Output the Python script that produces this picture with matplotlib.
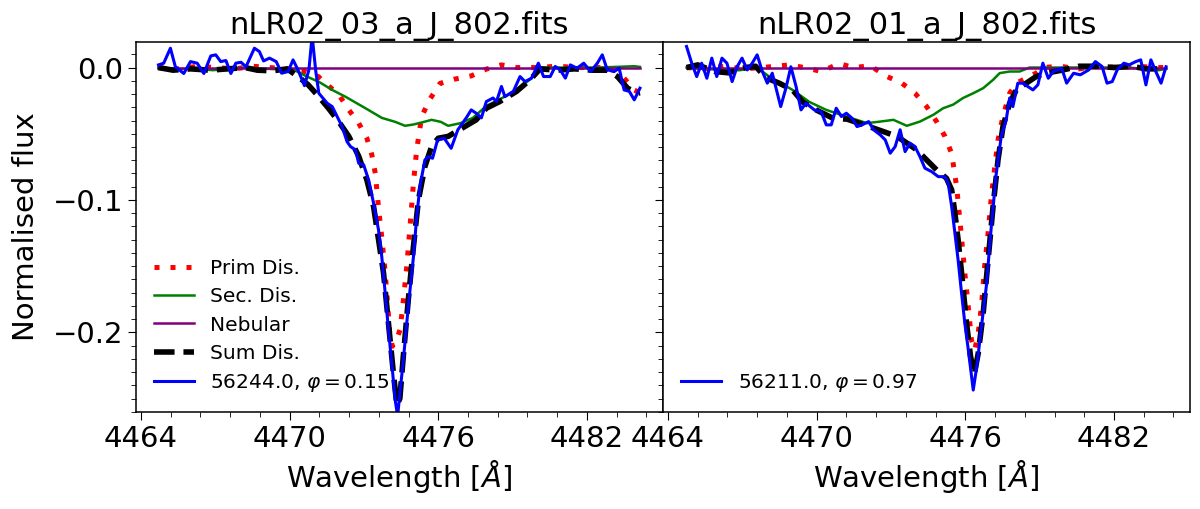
import numpy as np
import matplotlib
matplotlib.use('Agg')
import matplotlib.pyplot as plt
from matplotlib.ticker import MultipleLocator, AutoMinorLocator

# panel titles / observation labels
titles = ['nLR02_03_a_J_802.fits', 'nLR02_01_a_J_802.fits']
obs_labels = [r'56244.0, $\varphi = 0.15$', r'56211.0, $\varphi = 0.97$']

# ---- left panel (nLR02_03) ----
l_prim_x = [4464.7, 4465.5, 4466.3, 4467.0, 4467.8, 4468.5, 4469.2, 4469.9, 4470.6, 4471.16,
            4471.45, 4471.99, 4472.39, 4472.79, 4473.12, 4473.32, 4473.46, 4473.59, 4473.72, 4473.85,
            4473.97, 4474.05, 4474.15, 4474.3, 4474.46, 4474.59, 4474.73, 4474.86, 4475.0, 4475.13,
            4475.33, 4475.66, 4476.07, 4476.65, 4477.33, 4477.94, 4478.55, 4479.16, 4480.0, 4480.8,
            4481.6, 4482.5, 4483.09, 4483.5, 4483.91, 4484.14]
l_prim_y = [0.0, -0.001, 0.001, 0.0, -0.001, 0.001, 0.0, -0.001, -0.003, -0.0068,
            -0.0118, -0.0206, -0.032, -0.042, -0.0534, -0.066, -0.080, -0.106, -0.128, -0.153,
            -0.182, -0.203, -0.2105, -0.206, -0.198, -0.176, -0.150, -0.120, -0.087, -0.062,
            -0.037, -0.024, -0.012, -0.0088, -0.0063, -0.0012, 0.002, 0.0, 0.0, 0.001,
            0.0, 0.0, -0.002, -0.008, -0.017, -0.019]

l_sec_x = [4464.7, 4465.5, 4466.3, 4466.9, 4467.5, 4468.3, 4469.0, 4469.7, 4470.2, 4470.7,
           4471.2, 4471.72, 4472.25, 4473.06, 4473.72, 4474.26, 4474.66, 4475.0, 4475.33, 4475.73,
           4476.1, 4476.4, 4476.9, 4477.4, 4477.94, 4478.48, 4479.16, 4479.7, 4480.11, 4480.8,
           4481.6, 4482.4, 4483.2, 4483.9, 4484.14]
l_sec_y = [0.0, -0.001, -0.001, -0.002, -0.001, 0.0, -0.001, -0.001, -0.002, -0.0068,
           -0.011, -0.0169, -0.022, -0.0307, -0.038, -0.041, -0.044, -0.043, -0.0415, -0.0395,
           -0.041, -0.044, -0.042, -0.038, -0.029, -0.024, -0.017, -0.009, 0.0, 0.0,
           0.0, 0.0, 0.0005, 0.001, 0.0005]

l_neb_x = [4464.7, 4484.14]
l_neb_y = [0.0, 0.0]

l_sum_x = [4464.7, 4465.3, 4466.0, 4466.8, 4467.5, 4468.2, 4468.7, 4469.3, 4469.9, 4470.34,
           4470.75, 4471.18, 4471.58, 4471.99, 4472.39, 4472.79, 4473.12, 4473.39, 4473.59, 4473.79,
           4473.99, 4474.19, 4474.33, 4474.45, 4474.59, 4474.79, 4475.0, 4475.2, 4475.46, 4475.73,
           4476.0, 4476.4, 4476.85, 4477.53, 4477.94, 4478.48, 4479.16, 4479.7, 4480.11, 4480.8,
           4481.5, 4482.2, 4482.82, 4483.23, 4483.64, 4484.04, 4484.14]
l_sum_y = [0.0, -0.002, -0.001, -0.002, -0.001, 0.0, -0.002, -0.0025, -0.001, -0.0068,
           -0.013, -0.022, -0.031, -0.041, -0.052, -0.067, -0.085, -0.105, -0.130, -0.155,
           -0.193, -0.231, -0.255, -0.250, -0.218, -0.1756, -0.135, -0.100, -0.0748, -0.0597,
           -0.0534, -0.052, -0.047, -0.0395, -0.0307, -0.0257, -0.018, -0.0093, -0.001, -0.002,
           -0.001, -0.002, -0.002, -0.0068, -0.0156, -0.0194, -0.019]

l_obs_x = [4464.71, 4464.92, 4465.19, 4465.39, 4465.73, 4466.0, 4466.27, 4466.54, 4466.82, 4467.02,
           4467.22, 4467.43, 4467.63, 4467.83, 4468.04, 4468.24, 4468.58, 4468.78, 4468.95, 4469.19,
           4469.46, 4469.68, 4469.94, 4470.14, 4470.34, 4470.6, 4470.78, 4470.91, 4471.05, 4471.18,
           4471.52, 4471.72, 4471.92, 4472.12, 4472.32, 4472.46, 4472.66, 4472.79, 4472.99, 4473.19,
           4473.39, 4473.59, 4473.72, 4473.86, 4473.99, 4474.15, 4474.26, 4474.36, 4474.59, 4474.79,
           4475.0, 4475.13, 4475.26, 4475.46, 4475.6, 4475.77, 4475.97, 4476.24, 4476.52, 4476.79,
           4477.13, 4477.33, 4477.53, 4477.74, 4477.94, 4478.21, 4478.35, 4478.55, 4478.69, 4479.03,
           4479.3, 4479.5, 4479.77, 4480.04, 4480.25, 4480.52, 4480.72, 4480.92, 4481.13, 4481.33,
           4481.6, 4481.87, 4482.15, 4482.42, 4482.62, 4482.82, 4483.1, 4483.3, 4483.5, 4483.71,
           4483.91, 4484.14]
l_obs_y = [0.002, 0.0033, 0.0146, 0.0006, -0.0045, 0.0045, 0.0033, -0.0045, 0.0088, 0.0096,
           0.0045, 0.0053, -0.0045, 0.0033, 0.004, 0.0006, 0.0146, 0.0121, 0.005, 0.0071,
           0.0045, -0.0043, -0.003, 0.0058, -0.0018, -0.0137, -0.0017, 0.024, -0.0017, -0.0194,
           -0.027, -0.0295, -0.037, -0.0446, -0.056, -0.0597, -0.0622, -0.0723, -0.0735, -0.0849,
           -0.1025, -0.1227, -0.1428, -0.1705, -0.198, -0.2285, -0.251, -0.263, -0.221, -0.1806,
           -0.1428, -0.1126, -0.090, -0.0698, -0.0673, -0.0685, -0.0547, -0.0534, -0.061, -0.047,
           -0.038, -0.032, -0.0345, -0.038, -0.0257, -0.023, -0.0257, -0.0143, -0.022, -0.018,
           -0.0068, -0.0106, -0.008, 0.0033, -0.0068, -0.0068, 0.0008, -0.0017, -0.008, 0.002,
           -0.0005, 0.0033, -0.003, 0.0033, 0.0096, -0.0017, -0.003, -0.0005, -0.0169, -0.018,
           -0.0244, -0.0156]

# ---- right panel (nLR02_01) ----
r_prim_x = [4464.75, 4465.5, 4466.3, 4467.0, 4467.8, 4468.9, 4469.5, 4470.2, 4470.9, 4471.5,
            4472.17, 4472.84, 4473.44, 4473.97, 4474.44, 4474.84, 4475.18, 4475.45, 4475.65, 4475.78,
            4475.98, 4476.12, 4476.25, 4476.38, 4476.52, 4476.65, 4476.78, 4476.92, 4477.05, 4477.19,
            4477.32, 4477.52, 4477.79, 4478.06, 4478.46, 4478.86, 4479.13, 4479.8, 4480.6, 4481.4,
            4482.2, 4483.0, 4483.6, 4484.1]
r_prim_y = [0.0, -0.001, 0.001, -0.001, 0.0, 0.002, 0.0, -0.003, 0.003, 0.0,
            0.0013, -0.0068, -0.0118, -0.0194, -0.0295, -0.0408, -0.052, -0.065, -0.090, -0.115,
            -0.155, -0.1806, -0.206, -0.2134, -0.2008, -0.1806, -0.150, -0.125, -0.0975, -0.0748,
            -0.0547, -0.037, -0.0194, -0.0118, -0.008, -0.0042, 0.0, 0.001, -0.001, 0.001,
            0.0, 0.001, 0.0, 0.0]

r_sec_x = [4464.75, 4465.5, 4466.3, 4466.9, 4467.6, 4468.08, 4469.03, 4469.71, 4470.39, 4471.2,
           4472.03, 4472.57, 4473.1, 4473.64, 4474.17, 4474.71, 4475.11, 4475.51, 4475.91, 4476.32,
           4476.72, 4477.12, 4477.39, 4477.79, 4478.19, 4478.59, 4479.5, 4480.5, 4481.5, 4482.5,
           4483.3, 4483.8, 4484.1]
r_sec_y = [0.0, -0.001, -0.002, -0.002, 0.0, -0.0068, -0.0169, -0.026, -0.032, -0.037,
           -0.042, -0.0408, -0.0395, -0.044, -0.0408, -0.0357, -0.0307, -0.028, -0.023, -0.0194,
           -0.0156, -0.0093, -0.0042, -0.003, -0.003, 0.0, 0.0, 0.0, 0.0, 0.0,
           -0.001, -0.002, -0.001]

r_neb_x = [4464.75, 4484.1]
r_neb_y = [0.0, 0.0]

r_sum_x = [4464.75, 4465.2, 4465.9, 4466.45, 4467.13, 4467.54, 4467.94, 4468.49, 4469.03, 4469.44,
           4469.98, 4470.66, 4471.23, 4472.03, 4472.7, 4473.24, 4473.64, 4474.04, 4474.44, 4474.84,
           4475.24, 4475.45, 4475.58, 4475.71, 4475.85, 4476.05, 4476.21, 4476.36, 4476.52, 4476.72,
           4476.92, 4477.12, 4477.32, 4477.52, 4477.79, 4478.06, 4478.46, 4478.86, 4479.26, 4479.9,
           4480.6, 4481.3, 4482.0, 4482.7, 4483.3, 4484.1]
r_sum_y = [0.0, 0.002, -0.003, -0.004, 0.0, 0.001, -0.0077, -0.0118, -0.0169, -0.026,
           -0.032, -0.0383, -0.039, -0.044, -0.0484, -0.052, -0.057, -0.0622, -0.0698, -0.0773,
           -0.0836, -0.0924, -0.110, -0.130, -0.155, -0.193, -0.218, -0.232, -0.216, -0.186,
           -0.1454, -0.105, -0.0698, -0.0446, -0.0269, -0.0169, -0.0118, -0.0068, -0.0042, -0.002,
           0.001, 0.001, 0.0, 0.001, -0.001, -0.001]

r_obs_x = [4464.75, 4464.96, 4465.16, 4465.36, 4465.57, 4465.77, 4465.97, 4466.18, 4466.38, 4466.59,
           4466.79, 4466.99, 4467.2, 4467.4, 4467.6, 4467.81, 4468.01, 4468.21, 4468.55, 4468.76,
           4468.96, 4469.17, 4469.37, 4469.57, 4469.91, 4470.18, 4470.39, 4470.59, 4470.79, 4471.0,
           4471.2, 4471.43, 4471.63, 4471.83, 4472.1, 4472.3, 4472.57, 4472.77, 4472.97, 4473.17,
           4473.37, 4473.57, 4473.77, 4473.97, 4474.17, 4474.37, 4474.64, 4474.91, 4475.18, 4475.31,
           4475.45, 4475.58, 4475.71, 4475.85, 4475.98, 4476.12, 4476.32, 4476.47, 4476.65, 4476.85,
           4477.05, 4477.25, 4477.45, 4477.65, 4477.79, 4477.92, 4478.12, 4478.32, 4478.52, 4478.73,
           4478.93, 4479.13, 4479.35, 4479.55, 4479.89, 4480.09, 4480.37, 4480.64, 4480.98, 4481.25,
           4481.52, 4481.72, 4481.93, 4482.13, 4482.4, 4482.61, 4482.88, 4483.08, 4483.29, 4483.49,
           4483.69, 4483.9, 4484.1]
r_obs_y = [0.0159, 0.0033, -0.0068, 0.0033, -0.0081, 0.0071, -0.0068, 0.0071, 0.0033, -0.0106,
           0.0006, 0.0071, -0.0018, 0.0033, 0.0096, -0.003, -0.0118, -0.0043, -0.0295, -0.0156,
           0.0006, -0.0143, -0.032, -0.0269, -0.032, -0.0333, -0.0433, -0.0433, -0.0307, -0.037,
           -0.0345, -0.0383, -0.0446, -0.0433, -0.0408, -0.047, -0.0509, -0.0547, -0.0647, -0.0597,
           -0.047, -0.0635, -0.0571, -0.0597, -0.0673, -0.076, -0.0786, -0.0824, -0.0824, -0.0874,
           -0.105, -0.125, -0.1454, -0.1705, -0.193, -0.213, -0.2436, -0.225, -0.196, -0.165,
           -0.120, -0.080, -0.052, -0.0395, -0.023, -0.0295, -0.0118, -0.0118, -0.0143, -0.0169,
           -0.013, 0.0033, -0.0081, -0.003, -0.0005, -0.0118, -0.0043, -0.0055, -0.0018, 0.0045,
           0.0008, -0.0118, -0.0106, -0.0018, 0.0033, 0.002, 0.0045, 0.0058, -0.0131, 0.0058,
           -0.003, -0.0118, 0.0006]

panels = [
    (l_prim_x, l_prim_y, l_sec_x, l_sec_y, l_neb_x, l_neb_y, l_sum_x, l_sum_y, l_obs_x, l_obs_y),
    (r_prim_x, r_prim_y, r_sec_x, r_sec_y, r_neb_x, r_neb_y, r_sum_x, r_sum_y, r_obs_x, r_obs_y),
]

fig, axes = plt.subplots(1, 2, figsize=(12, 5.09), dpi=100, sharex=True, sharey=True)
fig.subplots_adjust(left=0.1133, right=0.9917, bottom=0.191, top=0.9175, wspace=0)

for i, ax in enumerate(axes):
    px, py, sx, sy, nx, ny, tx, ty, ox, oy = panels[i]
    ax.plot(px, py, color='red', lw=3.6, dashes=(1, 2.2), label='Prim Dis.')
    ax.plot(sx, sy, color='green', lw=1.8, label='Sec. Dis.')
    ax.plot(nx, ny, color='purple', lw=1.8, label='Nebular')
    ax.plot(tx, ty, color='black', lw=4.0, ls='--', label='Sum Dis.')
    ax.plot(ox, oy, color='blue', lw=2.2, label=obs_labels[i])
    ax.set_title(titles[i], fontsize=22)
    ax.set_xlabel(r'Wavelength [$\AA$]', fontsize=21)

    if i == 0:
        ax.legend(loc='lower left', frameon=False, fontsize=14.5, labelspacing=0.45)
    else:
        h, l = ax.get_legend_handles_labels()
        ax.legend(h[-1:], l[-1:], loc='lower left', frameon=False, fontsize=14.5)

    ax.xaxis.set_major_locator(MultipleLocator(6))
    ax.xaxis.set_minor_locator(AutoMinorLocator(5))
    ax.yaxis.set_major_locator(MultipleLocator(0.1))
    ax.yaxis.set_minor_locator(MultipleLocator(0.01))
    ax.ticklabel_format(axis='x', useOffset=False)
    ax.tick_params(which='major', length=5.8, labelsize=21)
    ax.tick_params(which='minor', length=3.5)
    for sp in ax.spines.values():
        sp.set_linewidth(1.1)

axes[0].set_ylabel('Normalised flux', fontsize=21, labelpad=9)
axes[0].set_xlim(4463.8, 4485.07)
axes[0].set_ylim(-0.26, 0.0193)

fig.savefig('out.png', dpi=100)
